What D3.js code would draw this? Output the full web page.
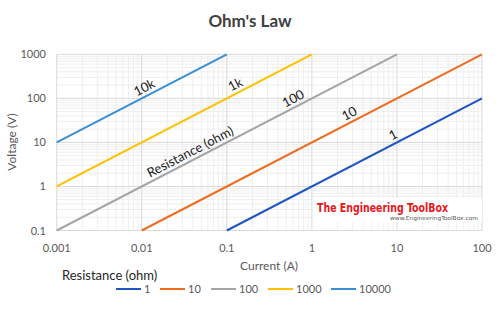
<!DOCTYPE html>
<html><head><meta charset="utf-8">
<script src="https://cdn.jsdelivr.net/npm/d3@7"></script>
<style>body{margin:0;background:#fff}svg{display:block;font-family:Lato,"Open Sans",sans-serif}</style>
</head><body><svg id="c" width="500" height="309"></svg>
<script>
const resistances = [1, 10, 100, 1000, 10000];
const seriesNames = ["1", "10", "100", "1000", "10000"];
const colors = ["#1f55c2", "#ee6c22", "#a5a5a5", "#ffc000", "#3a8ed6"];
// current ranges (A) for each series [start, end]
const currentStart = [0.1, 0.01, 0.001, 0.001, 0.001];
const currentEnd = [100, 100, 10, 1, 0.1];
const xTicks = [0.001, 0.01, 0.1, 1, 10, 100];
const yTicks = [0.1, 1, 10, 100, 1000];
const xTickLabels = ["0.001", "0.01", "0.1", "1", "10", "100"];
const yTickLabels = ["0.1", "1", "10", "100", "1000"];
const lineLabels = ["1", "10", "100", "1k", "10k"];
const lineLabelCurrent = [10, 3.06, 0.67, 0.14, 0.0119];

const svg = d3.select("#c");
const x = d3.scaleLog().domain([0.001, 100]).range([56.7, 482]);
const y = d3.scaleLog().domain([0.1, 1000]).range([230.5, 54.3]);

// minor grid
const minorX = [], minorY = [];
for (let d = -3; d < 2; d++) for (let m = 2; m <= 9; m++) minorX.push(m * Math.pow(10, d));
for (let d = -1; d < 3; d++) for (let m = 2; m <= 9; m++) minorY.push(m * Math.pow(10, d));
const g = svg.append("g");
g.selectAll(".mx").data(minorX).join("line")
  .attr("x1", d => x(d)).attr("x2", d => x(d)).attr("y1", y(0.1)).attr("y2", y(1000))
  .attr("stroke", "#eeeeee").attr("stroke-width", 1);
g.selectAll(".my").data(minorY).join("line")
  .attr("y1", d => y(d)).attr("y2", d => y(d)).attr("x1", x(0.001)).attr("x2", x(100))
  .attr("stroke", "#eeeeee").attr("stroke-width", 1);
g.selectAll(".Mx").data(xTicks).join("line")
  .attr("x1", d => x(d)).attr("x2", d => x(d)).attr("y1", y(0.1)).attr("y2", y(1000))
  .attr("stroke", "#d9d9d9").attr("stroke-width", 1);
g.selectAll(".My").data(yTicks).join("line")
  .attr("y1", d => y(d)).attr("y2", d => y(d)).attr("x1", x(0.001)).attr("x2", x(100))
  .attr("stroke", "#d9d9d9").attr("stroke-width", 1);

// watermark
svg.append("rect").attr("x", 313).attr("y", 198).attr("width", 169).attr("height", 24).attr("fill", "#fff");
svg.append("text").attr("x", 317).attr("y", 211.5).text("The Engineering ToolBox")
  .attr("fill", "#e8161b").attr("font-size", 13).attr("font-weight", "bold")
  .attr("font-family", "'Liberation Sans Narrow','DejaVu Sans Condensed',sans-serif")
  .attr("textLength", 131).attr("lengthAdjust", "spacingAndGlyphs");
svg.append("text").attr("x", 390).attr("y", 219.5).text("www.EngineeringToolBox.com")
  .attr("fill", "#555").attr("font-size", 5.5).attr("font-family", "'DejaVu Sans',sans-serif")
  .attr("textLength", 88).attr("lengthAdjust", "spacingAndGlyphs");

// series lines
const line = d3.line().x(d => x(d[0])).y(d => y(d[1]));
resistances.forEach((r, i) => {
  const pts = [[currentStart[i], currentStart[i] * r], [currentEnd[i], currentEnd[i] * r]];
  svg.append("path").attr("d", line(pts)).attr("fill", "none")
    .attr("stroke", colors[i]).attr("stroke-width", 2);
});

// line labels
const ang = -Math.atan((y(1) - y(10)) / (x(1) - x(0.1))) * 180 / Math.PI;
resistances.forEach((r, i) => {
  const I = lineLabelCurrent[i];
  const px = x(I), py = y(I * r);
  svg.append("text").attr("transform", `translate(${px},${py}) rotate(${ang})`)
    .attr("y", -4).attr("text-anchor", "middle").attr("font-size", 13).attr("fill", "#1a1a1a")
    .text(lineLabels[i]);
});
{
  const I = 0.0412, px = x(I), py = y(I * 100);
  svg.append("text").attr("transform", `translate(${px},${py}) rotate(${ang})`)
    .attr("y", -4).attr("text-anchor", "middle").attr("font-size", 13).attr("fill", "#1a1a1a")
    .text("Resistance (ohm)");
}

// tick labels
svg.selectAll(".xt").data(xTicks).join("text")
  .attr("x", d => x(d)).attr("y", 252).attr("text-anchor", "middle")
  .attr("font-size", 11).attr("fill", "#595959").text((d, i) => xTickLabels[i]);
svg.selectAll(".yt").data(yTicks).join("text")
  .attr("x", 46).attr("y", d => y(d) + 4).attr("text-anchor", "end")
  .attr("font-size", 11).attr("fill", "#595959").text((d, i) => yTickLabels[i]);

// titles
svg.append("text").attr("x", 250).attr("y", 27).attr("text-anchor", "middle")
  .attr("font-size", 17).attr("font-weight", "bold").attr("fill", "#404040").text("Ohm's Law");
svg.append("text").attr("x", 269).attr("y", 270).attr("text-anchor", "middle")
  .attr("font-size", 12).attr("fill", "#595959").text("Current (A)");
svg.append("text").attr("transform", "translate(16,142) rotate(-90)").attr("text-anchor", "middle")
  .attr("font-size", 12).attr("fill", "#595959").text("Voltage (V)");

// legend
svg.append("text").attr("x", 62).attr("y", 280).attr("font-size", 13).attr("fill", "#262626")
  .text("Resistance (ohm)");
const legX = [116, 160, 211, 268, 331];
seriesNames.forEach((n, i) => {
  svg.append("line").attr("x1", legX[i]).attr("x2", legX[i] + 25).attr("y1", 289).attr("y2", 289)
    .attr("stroke", colors[i]).attr("stroke-width", 2);
  svg.append("text").attr("x", legX[i] + 28).attr("y", 293).attr("font-size", 11)
    .attr("fill", "#595959").text(n);
});
</script></body></html>
